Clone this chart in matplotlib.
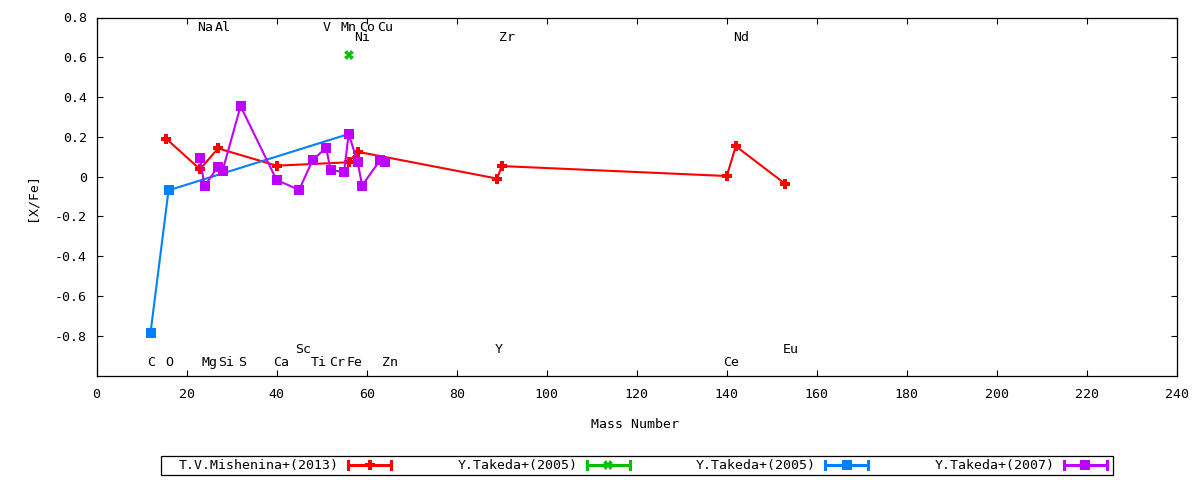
import matplotlib
matplotlib.use('Agg')
import matplotlib.pyplot as plt
from matplotlib.lines import Line2D
from matplotlib.patches import Rectangle

plt.rcParams['font.family'] = ['DejaVu Sans Mono', 'DejaVu Sans']
plt.rcParams['font.size'] = 9.5

# T.V.Mishenina+(2013)
mish_mass = [15.5, 23, 27, 40, 56, 58, 89, 90, 140, 142, 153]
mish_xfe = [0.19, 0.037, 0.142, 0.055, 0.072, 0.125, -0.01, 0.053, 0.003, 0.153, -0.037]

# Y.Takeda+(2005), single point
tak05a_mass = [56]
tak05a_xfe = [0.61]

# Y.Takeda+(2005)
tak05b_mass = [12, 16, 56]
tak05b_xfe = [-0.785, -0.069, 0.214]

# Y.Takeda+(2007)
tak07_mass = [23, 24, 27, 28, 32, 40, 45, 48, 51, 52, 55, 56, 58, 59, 63, 64]
tak07_xfe = [0.092, -0.047, 0.05, 0.03, 0.354, -0.017, -0.067, 0.083,
             0.145, 0.033, 0.023, 0.214, 0.075, -0.045, 0.083, 0.075]

# element name labels (gnuplot "set label" style)
elem_names = ['Na', 'Al', 'V', 'Mn', 'Co', 'Cu',
              'Ni', 'Zr', 'Nd',
              'C', 'O', 'Mg', 'Si', 'S', 'Ca', 'Ti', 'Cr', 'Fe', 'Zn', 'Ce',
              'Sc', 'Y', 'Eu']
elem_x = [24.1, 28.0, 51.1, 55.9, 60.0, 64.2,
          59.1, 91.2, 143.2,
          12.1, 16.2, 25.2, 28.9, 32.3, 41.1, 49.3, 53.4, 57.2, 65.2, 141.0,
          45.9, 89.4, 154.1]
elem_y = [0.748] * 6 + [0.698] * 3 + [-0.937] * 11 + [-0.867] * 3

series_names = ['T.V.Mishenina+(2013)', 'Y.Takeda+(2005)', 'Y.Takeda+(2005)', 'Y.Takeda+(2007)']
colors = ['#ff0000', '#00c000', '#0080ff', '#c000ff']
markers = ['P', 'X', 's', 's']

fig = plt.figure(figsize=(12, 4.8), dpi=100)
ax = fig.add_axes([96.5 / 1200, 1 - 375.5 / 480, (1177 - 96.5) / 1200, (375.5 - 17.5) / 480])

all_mass = [mish_mass, tak05a_mass, tak05b_mass, tak07_mass]
all_xfe = [mish_xfe, tak05a_xfe, tak05b_xfe, tak07_xfe]
for m, v, c, mk in zip(all_mass, all_xfe, colors, markers):
    ax.plot(m, v, color=c, lw=1.5, marker=mk, markersize=7, markeredgewidth=0)

for name, x, y in zip(elem_names, elem_x, elem_y):
    ax.text(x, y, name, ha='center', va='center', color='black')

ax.set_xlim(0, 240)
ax.set_ylim(-1.0, 0.8)
ax.set_xticks(range(0, 241, 20))
yt = [-0.8, -0.6, -0.4, -0.2, 0, 0.2, 0.4, 0.6, 0.8]
ax.set_yticks(yt)
ax.set_yticklabels(['0' if t == 0 else f'{t:.1f}' for t in yt])
ax.tick_params(direction='in', top=True, right=True, length=4.5, width=0.8)
ax.tick_params(axis='x', pad=9)
ax.tick_params(axis='y', pad=7)
for s in ax.spines.values():
    s.set_linewidth(0.9)

fig.text(635 / 1200, 1 - 425 / 480, 'Mass Number', ha='center', va='center')
fig.text(32 / 1200, 1 - 197 / 480, '[X/Fe]', ha='center', va='center', rotation=90)

# key box at the bottom, in pixel coordinates
lg = fig.add_axes([0, 0, 1, 1], zorder=-1)
lg.set_xlim(0, 1200)
lg.set_ylim(480, 0)
lg.axis('off')
lg.add_patch(Rectangle((160.5, 455.5), 952, 19.5, fill=False, lw=0.9, edgecolor='black'))
for i, (name, c, mk) in enumerate(zip(series_names, colors, markers)):
    xr = 339 + 238.5 * i
    yc = 465
    lg.text(xr, yc, name, ha='right', va='center')
    x0, x1 = xr + 9, xr + 52
    lg.add_line(Line2D([x0, x1], [yc, yc], color=c, lw=2.2))
    lg.add_line(Line2D([x0, x0], [yc - 4, yc + 4], color=c, lw=2.2))
    lg.add_line(Line2D([x1, x1], [yc - 4, yc + 4], color=c, lw=2.2))
    lg.add_line(Line2D([(x0 + x1) / 2], [yc], color=c, marker=mk, markersize=7, markeredgewidth=0))

fig.savefig('out.png', dpi=100)
